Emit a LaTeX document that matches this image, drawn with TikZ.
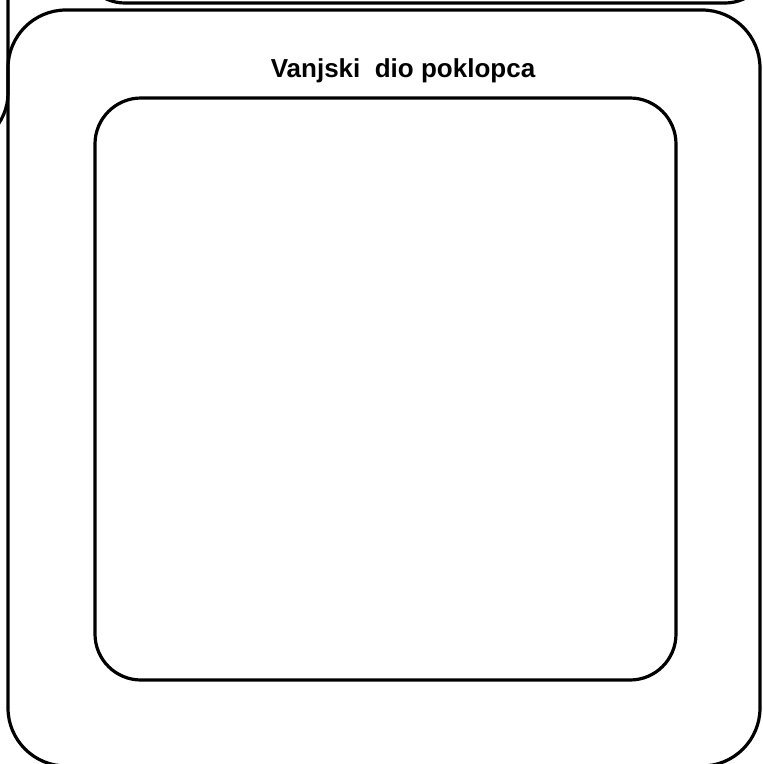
\documentclass[tikz,border=0pt]{standalone}
\usepackage{fontspec}
\setmainfont{Liberation Sans}
\usepackage{tikz}
\usetikzlibrary{positioning}

\begin{document}
\begin{tikzpicture}[x=1pt, y=-1pt, line width=3.2pt, every node/.style={font=\bfseries\fontsize{26}{30}\selectfont}]
    \clip (0,0) rectangle (763,764);
    \node[draw, rounded corners=45pt, minimum width=690pt, minimum height=200pt] (top) at (425,-97) {};
    \node[draw, rounded corners=55pt, minimum width=300pt, minimum height=300pt] (side) at (-142,-2) {};
    \node[draw, rounded corners=58pt, minimum width=752pt, minimum height=756pt] (lid) at (384,388) {};
    \node[draw, rounded corners=46pt, minimum width=581pt, minimum height=582pt] (inner) at (385.5,389) {};
    \node[anchor=base] (title) at (403,77) {Vanjski\ \ dio poklopca};
  \end{tikzpicture}
\end{document}
